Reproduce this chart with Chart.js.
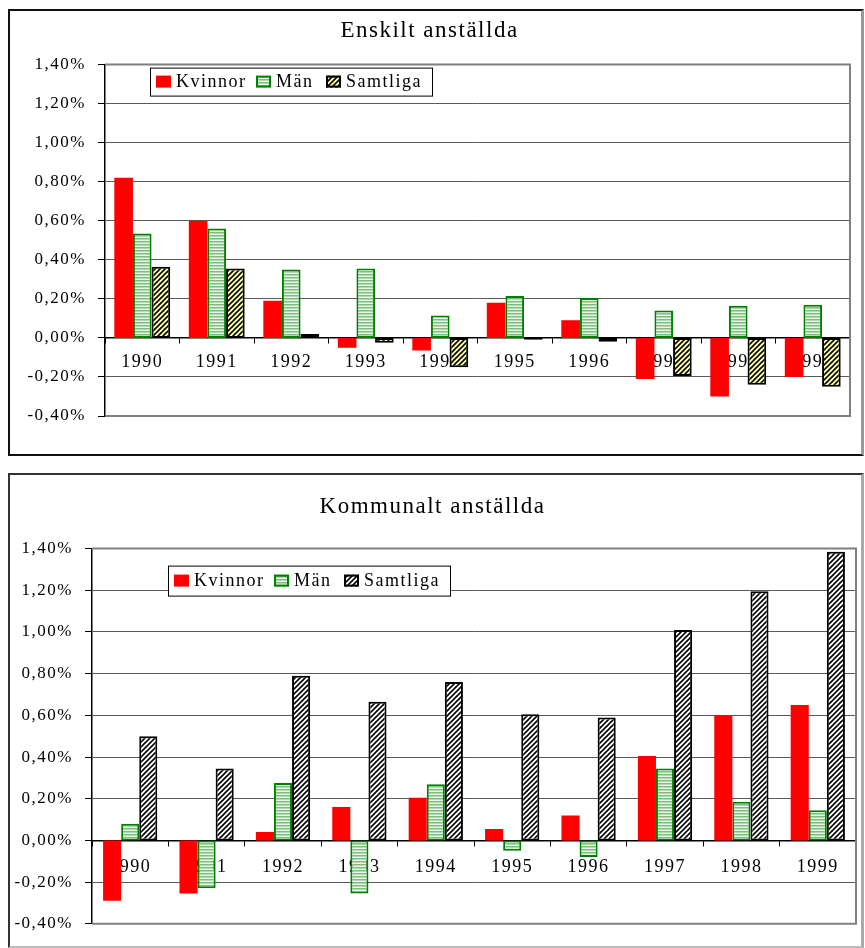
<!DOCTYPE html>
<html>
<head>
<meta charset="utf-8">
<script src="https://cdn.jsdelivr.net/npm/chart.js@4.4.0/dist/chart.umd.min.js"></script>
<style>
    body { margin: 0; background: #fff; }
    canvas, .frame { position: absolute; }
    .frame { box-sizing: border-box; pointer-events: none; }
    #frame1 { left: 8px; top: 9px; width: 856px; height: 447px;
              border: 2px solid #111; border-right: 3px solid #999; }
    #frame2 { left: 8px; top: 473px; width: 856px; height: 475px;
              border: 2px solid #333; border-right: 3px solid #aaa; border-bottom: 2px solid #bbb; }
</style>
</head>
<body>
<canvas id="enskilt" width="854" height="445" style="left:9px;top:10px"></canvas>
<canvas id="kommunalt" width="854" height="472" style="left:9px;top:474px"></canvas>
<div class="frame" id="frame1"></div>
<div class="frame" id="frame2"></div>

<script>
// Data, procent
const years = ['1990', '1991', '1992', '1993', '1994', '1995', '1996', '1997', '1998', '1999'];
const seriesNames = ['Kvinnor', 'Män', 'Samtliga'];

const enskiltKvinnor  = [0.82, 0.60, 0.19, -0.05, -0.065, 0.18, 0.09, -0.21, -0.30, -0.20];
const enskiltMan      = [0.535, 0.56, 0.35, 0.355, 0.115, 0.215, 0.205, 0.14, 0.165, 0.17];
const enskiltSamtliga = [0.365, 0.355, 0.02, -0.025, -0.15, -0.01, -0.02, -0.195, -0.24, -0.25];

const kommunaltKvinnor  = [-0.29, -0.255, 0.04, 0.16, 0.205, 0.055, 0.12, 0.405, 0.60, 0.65];
const kommunaltMan      = [0.08, -0.23, 0.275, -0.255, 0.27, -0.05, -0.08, 0.345, 0.185, 0.145];
const kommunaltSamtliga = [0.50, 0.345, 0.79, 0.665, 0.76, 0.605, 0.59, 1.01, 1.195, 1.385];

const yTicksMin = -0.4, yTicksMax = 1.4, yTicksStep = 0.2;

Chart.defaults.font.family = '"Liberation Serif", "Times New Roman", serif';
Chart.defaults.color = '#000';

// mönster för staplarna
function hStripes() {
    const c = document.createElement('canvas');
    c.width = 3; c.height = 3;
    const x = c.getContext('2d');
    x.fillStyle = '#e8f5e8'; x.fillRect(0, 0, 3, 3);
    x.fillStyle = '#7dbf7d'; x.fillRect(0, 0, 3, 1.5);
    return x.createPattern(c, 'repeat');
}

function diagStripes(bg) {
    const s = 5;
    const c = document.createElement('canvas');
    c.width = s; c.height = s;
    const x = c.getContext('2d');
    x.fillStyle = bg; x.fillRect(0, 0, s, s);
    x.strokeStyle = '#000'; x.lineWidth = 1.6;
    x.beginPath();
    x.moveTo(-1, s + 1); x.lineTo(s + 1, -1);
    x.moveTo(-1, 1); x.lineTo(1, -1);
    x.moveTo(s - 1, s + 1); x.lineTo(s + 1, s - 1);
    x.stroke();
    return x.createPattern(c, 'repeat');
}

const spacing = {
    id: 'spacing',
    beforeLayout(chart) { chart.ctx.letterSpacing = '1.5px'; },
    beforeDraw(chart) { chart.ctx.letterSpacing = '1.5px'; }
};

// grå ram runt ritytan (topp, höger, botten)
const plotFrame = {
    id: 'plotFrame',
    beforeDatasetsDraw(chart) {
        const a = chart.chartArea, ctx = chart.ctx;
        ctx.save();
        ctx.strokeStyle = '#808080';
        ctx.lineWidth = 2;
        ctx.beginPath();
        ctx.moveTo(a.left, a.top);
        ctx.lineTo(a.right, a.top);
        ctx.lineTo(a.right, a.bottom);
        ctx.lineTo(a.left, a.bottom);
        ctx.stroke();
        ctx.restore();
    }
};

// förklaring i en ruta inne i diagrammet
const boxLegend = {
    id: 'boxLegend',
    afterDraw(chart, args, opts) {
        const a = chart.chartArea, ctx = chart.ctx;
        const bx = a.left + opts.x, by = a.top + opts.y;
        ctx.save();
        ctx.letterSpacing = '1.5px';
        ctx.fillStyle = '#fff';
        ctx.fillRect(bx, by, opts.w, opts.h);
        ctx.strokeStyle = '#000';
        ctx.lineWidth = 1;
        ctx.strokeRect(bx + 0.5, by + 0.5, opts.w, opts.h);
        ctx.font = '18px "Liberation Serif"';
        ctx.textBaseline = 'middle';
        const cy = by + opts.h / 2;
        chart.data.datasets.forEach((ds, i) => {
            const sx = bx + opts.offsets[i];
            ctx.fillStyle = ds.backgroundColor;
            ctx.fillRect(sx, cy - 6, 15, 12);
            if (ds.borderWidth) {
                ctx.strokeStyle = ds.borderColor;
                ctx.lineWidth = 2;
                ctx.strokeRect(sx + 1, cy - 5, 13, 10);
            }
            ctx.fillStyle = '#000';
            ctx.fillText(ds.label, sx + 20, cy + 1);
        });
        ctx.restore();
    }
};

function makeChart(id, title, kv, man, sam, samBg, lay) {
    return new Chart(document.getElementById(id), {
        type: 'bar',
        data: {
            labels: years,
            datasets: [
                { label: seriesNames[0], data: kv, backgroundColor: '#ff0000', borderWidth: 0 },
                { label: seriesNames[1], data: man, backgroundColor: hStripes(),
                  borderColor: '#008000', borderWidth: 2, borderSkipped: false },
                { label: seriesNames[2], data: sam, backgroundColor: diagStripes(samBg),
                  borderColor: '#000', borderWidth: 2, borderSkipped: false }
            ]
        },
        options: {
            responsive: false,
            animation: false,
            categoryPercentage: lay.cat,
            barPercentage: 1.0,
            layout: { padding: lay.padding },
            plugins: {
                legend: { display: false },
                tooltip: { enabled: false },
                title: {
                    display: true,
                    text: title,
                    font: { size: 23, weight: 'normal' },
                    padding: lay.titlePad
                },
                boxLegend: lay.legend
            },
            scales: {
                x: {
                    position: { y: 0 },
                    afterFit: s => { s.height = 0; },
                    grid: { drawOnChartArea: false, tickLength: 5, color: '#000' },
                    border: { color: '#000', width: 1.5 },
                    ticks: { font: { size: 18 }, padding: lay.xPad, maxRotation: 0, autoSkip: false }
                },
                y: {
                    min: yTicksMin,
                    max: yTicksMax,
                    afterFit: s => { s.width = lay.yWidth; },
                    grid: { color: '#5a5a5a', tickLength: 7, tickColor: '#000' },
                    border: { color: '#000', width: 1.5 },
                    ticks: {
                        stepSize: yTicksStep,
                        padding: 12,
                        font: { size: 17 },
                        callback: v => (Math.abs(v) < 1e-9 ? 0 : v).toFixed(2).replace('.', ',') + '%'
                    }
                }
            }
        },
        plugins: [spacing, plotFrame, boxLegend]
    });
}

makeChart('enskilt', 'Enskilt anställda', enskiltKvinnor, enskiltMan, enskiltSamtliga, '#ffffa8', {
    cat: 0.75,
    yWidth: 96,
    xPad: 9,
    padding: { top: 0, left: 0, right: 13, bottom: 39 },
    titlePad: { top: 7, bottom: 20 },
    legend: { x: 45, y: 3, w: 282, h: 28, offsets: [6, 106, 176] }
});

makeChart('kommunalt', 'Kommunalt anställda', kommunaltKvinnor, kommunaltMan, kommunaltSamtliga, '#ffffff', {
    cat: 0.71,
    yWidth: 83,
    xPad: 11,
    padding: { top: 0, left: 0, right: 7, bottom: 14 },
    titlePad: { top: 19, bottom: 28 },
    legend: { x: 76, y: 17, w: 282, h: 30, offsets: [6, 106, 176] }
});
</script>
</body>
</html>
